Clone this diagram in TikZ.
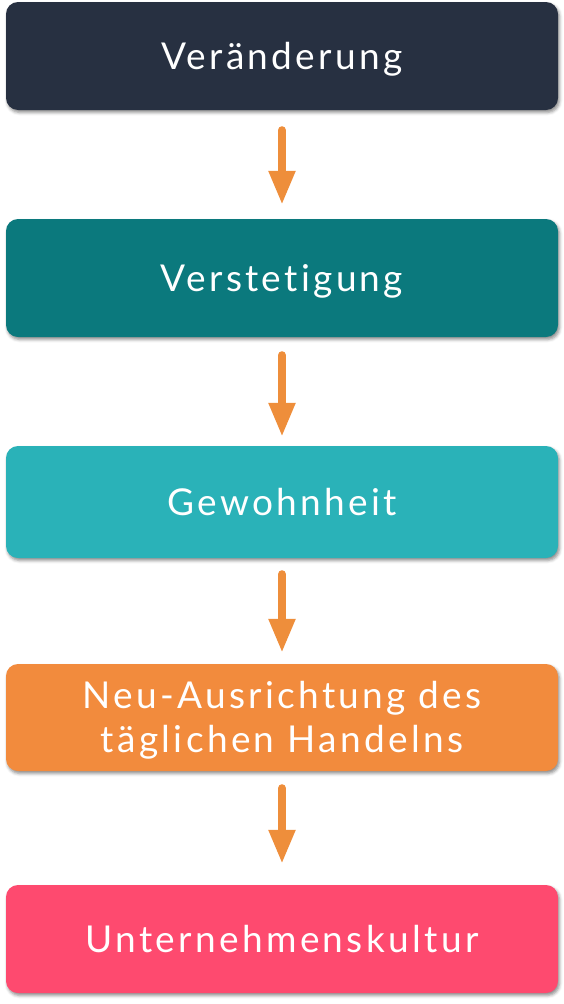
\documentclass[tikz,border=0pt]{standalone}
\usepackage{fontspec}
\setmainfont{Lato}[LetterSpace=9, Ligatures={NoCommon}]
\usetikzlibrary{arrows.meta,shadows.blur}
\definecolor{cA}{HTML}{273041}
\definecolor{cB}{HTML}{0B797D}
\definecolor{cC}{HTML}{2AB2B8}
\definecolor{cD}{HTML}{F28B3D}
\definecolor{cE}{HTML}{FE4A6F}
\definecolor{cArr}{HTML}{EE8E3B}
\tikzset{
  stagebox/.style={rectangle, rounded corners=12pt, minimum width=552pt,
    text=white, font=\fontsize{37}{44}\selectfont, align=center,
    text height=26pt, text depth=0pt,
    blur shadow={shadow xshift=1.5pt, shadow yshift=-2.5pt, shadow blur radius=3pt, shadow opacity=45}},
  flowarrow/.style={draw=cArr, line width=8pt, line cap=round,
    -{Triangle[length=34pt,width=25pt]},
    preaction={draw=black, draw opacity=0.18, transform canvas={shift={(1.5pt,-2.5pt)}}}},
}
\begin{document}
\begin{tikzpicture}[x=1pt,y=-1pt]
\useasboundingbox (0,0) rectangle (564,1004);
\node[stagebox, fill=cA, minimum height=108pt] (b1) at (282,56) {Veränderung};
\node[stagebox, fill=cB, minimum height=118pt] (b2) at (282,278) {Verstetigung};
\node[stagebox, fill=cC, minimum height=112pt] (b3) at (282,502) {Gewohnheit};
\node[stagebox, fill=cD, minimum height=107pt, text height=70pt] (b4) at (282,717.5) {Neu-Ausrichtung des\\täglichen Handelns};
\node[stagebox, fill=cE, minimum height=108pt] (b5) at (282,939) {Unternehmenskultur};
\draw[flowarrow, shorten <=20pt, shorten >=14pt] (b1.south) -- (b2.north);
\draw[flowarrow, shorten <=18pt, shorten >=9pt] (b2.south) -- (b3.north);
\draw[flowarrow, shorten <=16pt, shorten >=11pt] (b3.south) -- (b4.north);
\draw[flowarrow, shorten <=17pt, shorten >=21pt] (b4.south) -- (b5.north);
\end{tikzpicture}
\end{document}
